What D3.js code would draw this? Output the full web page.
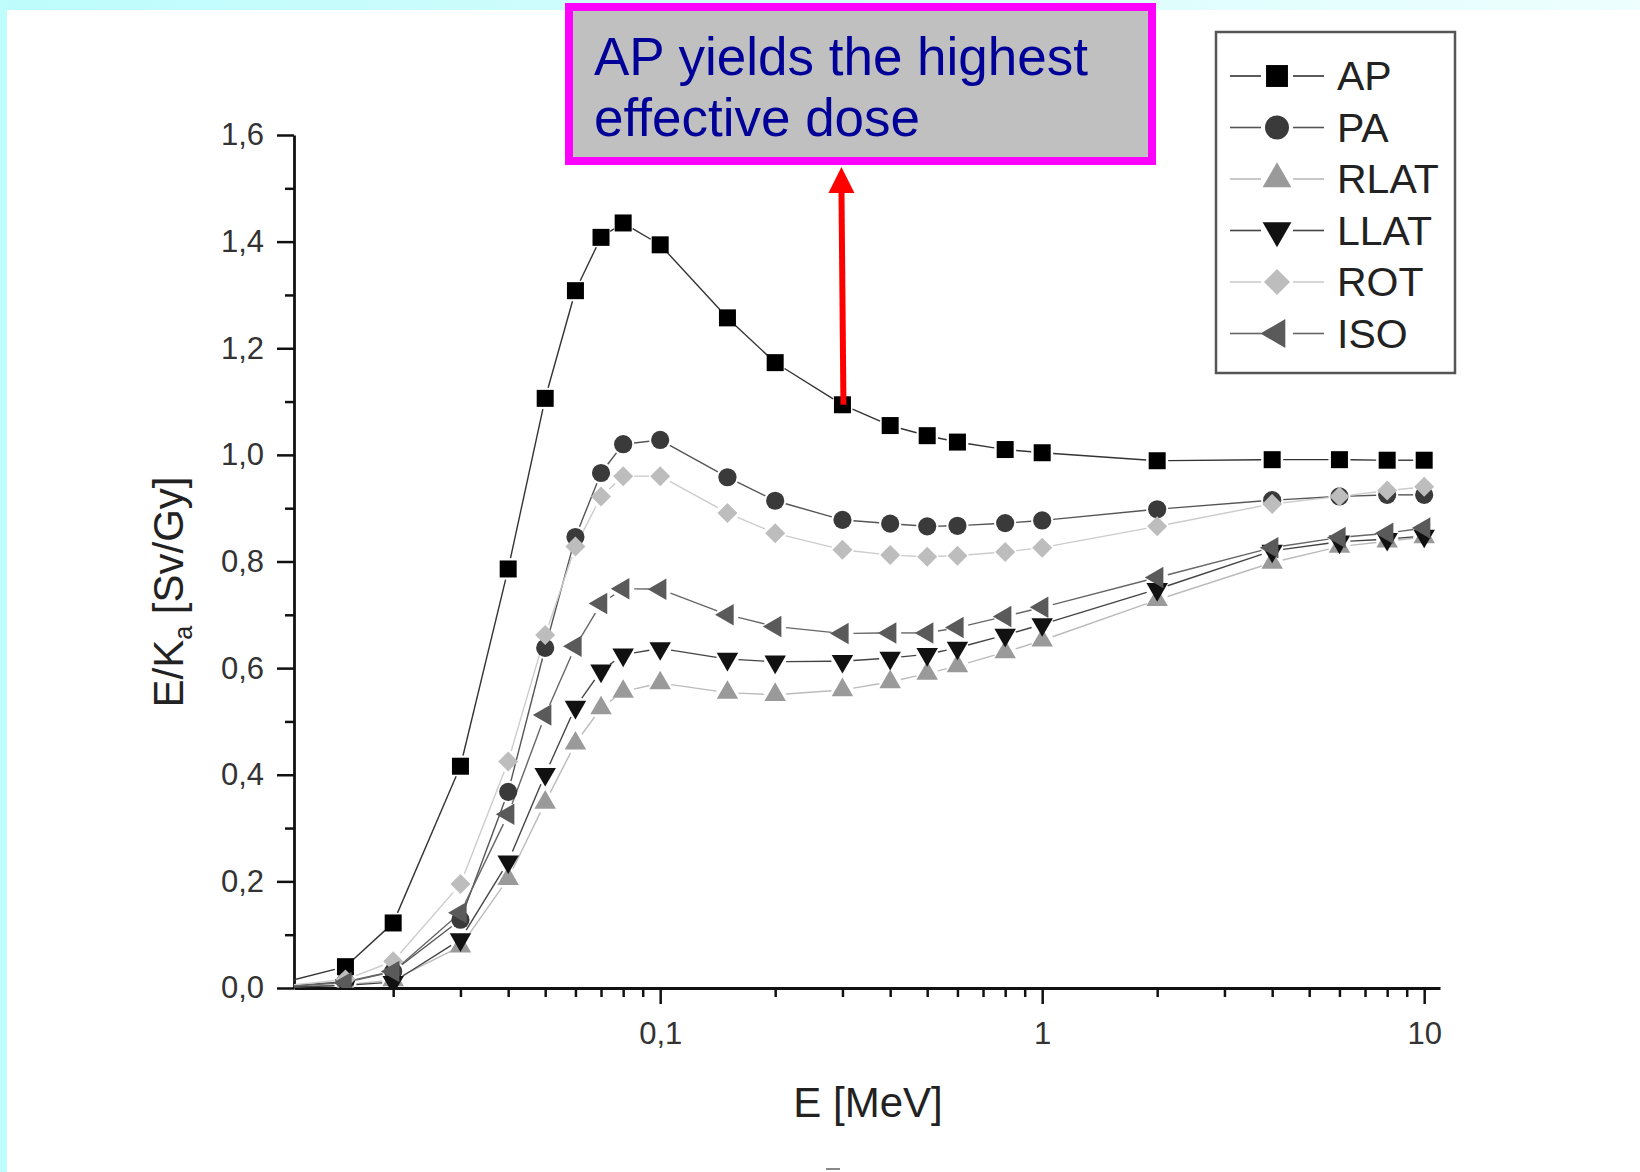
<!DOCTYPE html>
<html>
<head>
<meta charset="utf-8">
<script src="https://cdn.jsdelivr.net/npm/d3@7/dist/d3.min.js"></script>
<style>
  body { margin: 0; background: #fff; }
  svg { display: block; font-family: "Liberation Sans", Arial, sans-serif; }
</style>
</head>
<body>
<svg id="chart" width="1640" height="1172"></svg>
<script>
// Energies (MeV) and E/Ka conversion coefficients
const energy = [0.01, 0.015, 0.02, 0.03, 0.04, 0.05, 0.06, 0.07, 0.08, 0.1, 0.15, 0.2,
                0.3, 0.4, 0.5, 0.6, 0.8, 1, 2, 4, 6, 8, 10];
const AP   = [0.008, 0.040, 0.122, 0.416, 0.786, 1.106, 1.308, 1.408, 1.435, 1.394, 1.257, 1.173,
              1.094, 1.055, 1.036, 1.024, 1.010, 1.004, 0.989, 0.991, 0.991, 0.990, 0.990];
const PA   = [0.002, 0.012, 0.031, 0.128, 0.368, 0.638, 0.846, 0.966, 1.020, 1.028, 0.958, 0.914,
              0.878, 0.871, 0.866, 0.867, 0.872, 0.877, 0.898, 0.915, 0.922, 0.925, 0.925];
const RLAT = [0.001, 0.006, 0.015, 0.078, 0.205, 0.348, 0.459, 0.525, 0.556, 0.572, 0.554, 0.550,
              0.559, 0.574, 0.590, 0.604, 0.630, 0.652, 0.728, 0.798, 0.828, 0.838, 0.846];
const LLAT = [0.001, 0.005, 0.011, 0.091, 0.237, 0.401, 0.527, 0.595, 0.625, 0.637, 0.617, 0.612,
              0.613, 0.619, 0.626, 0.638, 0.662, 0.682, 0.748, 0.820, 0.837, 0.842, 0.848];
const ROT  = [0.003, 0.016, 0.050, 0.195, 0.425, 0.662, 0.828, 0.922, 0.960, 0.960, 0.891, 0.853,
              0.822, 0.812, 0.809, 0.811, 0.818, 0.826, 0.866, 0.908, 0.922, 0.933, 0.940];
const ISO  = [0.002, 0.010, 0.031, 0.141, 0.326, 0.512, 0.641, 0.721, 0.749, 0.748, 0.700, 0.678,
              0.665, 0.666, 0.666, 0.676, 0.697, 0.714, 0.770, 0.826, 0.845, 0.853, 0.863];

const seriesNames = ["AP", "PA", "RLAT", "LLAT", "ROT", "ISO"];
const seriesValues = [AP, PA, RLAT, LLAT, ROT, ISO];

const xMajorTicks = [0.1, 1, 10];
const xTickLabels = ["0,1", "1", "10"];
const yMajorTicks = [0, 0.2, 0.4, 0.6, 0.8, 1.0, 1.2, 1.4, 1.6];

// marker look per series
const styles = {
  AP:   { shape: d3.symbolSquare,   rot: 0,   size: 289, legSize: 480, fill: "#000",    line: "#333" },
  PA:   { shape: d3.symbolCircle,   rot: 0,   size: 260, legSize: 450, fill: "#3a3a3a", line: "#555" },
  RLAT: { shape: d3.symbolTriangle, rot: 0,   size: 200, legSize: 360, fill: "#9a9a9a", line: "#bbb" },
  LLAT: { shape: d3.symbolTriangle, rot: 180, size: 200, legSize: 360, fill: "#111",    line: "#444" },
  ROT:  { shape: d3.symbolSquare,   rot: 45,  size: 200, legSize: 340, fill: "#bdbdbd", line: "#ccc" },
  ISO:  { shape: d3.symbolTriangle, rot: -90, size: 200, legSize: 360, fill: "#5a5a5a", line: "#666" }
};

const svg = d3.select("#chart");

// slide background: cyan edges
const grad = svg.append("defs").append("linearGradient").attr("id", "topband");
grad.append("stop").attr("offset", "0%").attr("stop-color", "#bdfcfc");
grad.append("stop").attr("offset", "100%").attr("stop-color", "#eefefe");
svg.append("rect").attr("x", 0).attr("y", 0).attr("width", 1640).attr("height", 10).attr("fill", "url(#topband)");
svg.append("rect").attr("x", 0).attr("y", 0).attr("width", 7).attr("height", 1172).attr("fill", "#bffcfc");
// stray mark at the bottom edge of the slide
svg.append("line").attr("x1", 826).attr("x2", 840).attr("y1", 1169).attr("y2", 1169)
  .attr("stroke", "#888").attr("stroke-width", 2);

// scales
const x = d3.scaleLog().domain([0.011, 11]).range([294, 1440]);
const y = d3.scaleLinear().domain([0, 1.6]).range([988, 135]);

svg.append("defs").append("clipPath").attr("id", "plotclip")
  .append("rect").attr("x", 294).attr("y", 100).attr("width", 1160).attr("height", 888);

// axes
const fmtComma = d => d3.format(".1f")(d).replace(".", ",");

const yMinor = d3.range(1, 16, 2).map(i => i / 10);
svg.append("g").attr("transform", "translate(294,0)")
  .call(d3.axisLeft(y).tickValues(yMinor).tickSize(9).tickFormat(""))
  .call(g => g.select(".domain").remove())
  .call(g => g.selectAll("line").attr("stroke", "#111").attr("stroke-width", 2.5));

svg.append("g").attr("transform", "translate(294,0)")
  .call(d3.axisLeft(y).tickValues(yMajorTicks).tickSize(17).tickSizeOuter(0).tickPadding(13).tickFormat(fmtComma))
  .call(g => g.select(".domain").attr("stroke", "#111").attr("stroke-width", 2.8))
  .call(g => g.selectAll("line").attr("stroke", "#111").attr("stroke-width", 2.5))
  .call(g => g.selectAll("text").attr("font-size", 31).attr("fill", "#333")
    .attr("font-family", "Liberation Sans, Arial, sans-serif"));

const xMinor = [];
[0.01, 0.1, 1].forEach(dec => { for (let k = 2; k <= 9; k++) xMinor.push(dec * k); });
svg.append("g").attr("transform", "translate(0,988)")
  .call(d3.axisBottom(x).tickValues(xMinor).tickSize(9).tickFormat(""))
  .call(g => g.select(".domain").remove())
  .call(g => g.selectAll("line").attr("stroke", "#111").attr("stroke-width", 2.5));

svg.append("g").attr("transform", "translate(0,988)")
  .call(d3.axisBottom(x).tickValues(xMajorTicks).tickSize(16).tickSizeOuter(0).tickPadding(18)
    .tickFormat((d, i) => xTickLabels[i]))
  .call(g => g.select(".domain").attr("stroke", "#111").attr("stroke-width", 2.8))
  .call(g => g.selectAll("line").attr("stroke", "#111").attr("stroke-width", 2.5))
  .call(g => g.selectAll("text").attr("font-size", 31).attr("fill", "#333")
    .attr("font-family", "Liberation Sans, Arial, sans-serif"));

// axis titles
svg.append("text").attr("x", 868).attr("y", 1117).attr("text-anchor", "middle")
  .attr("font-size", 42).attr("fill", "#222").text("E [MeV]");

const yTitle = svg.append("text").attr("transform", "translate(183,592) rotate(-90)")
  .attr("text-anchor", "middle").attr("font-size", 42).attr("fill", "#222");
yTitle.append("tspan").text("E/K");
yTitle.append("tspan").attr("font-size", 25).attr("dy", 9).text("a");
yTitle.append("tspan").attr("dy", -9).text(" [Sv/Gy]");

// series: lines broken around markers, then markers
const plot = svg.append("g").attr("clip-path", "url(#plotclip)");
const gap = 11;

seriesNames.forEach((name, si) => {
  const st = styles[name];
  const vals = seriesValues[si];
  const pts = energy.map((e, i) => [x(e), y(vals[i])]);
  const segs = [];
  for (let i = 0; i < pts.length - 1; i++) {
    const [x1, y1] = pts[i], [x2, y2] = pts[i + 1];
    const len = Math.hypot(x2 - x1, y2 - y1);
    const g0 = i === 0 ? 0 : gap;
    if (len <= g0 + gap + 2) continue;
    const ux = (x2 - x1) / len, uy = (y2 - y1) / len;
    segs.push([x1 + ux * g0, y1 + uy * g0, x2 - ux * gap, y2 - uy * gap]);
  }
  plot.append("g").selectAll("line").data(segs).enter().append("line")
    .attr("x1", d => d[0]).attr("y1", d => d[1]).attr("x2", d => d[2]).attr("y2", d => d[3])
    .attr("stroke", st.line).attr("stroke-width", 1.4);
});

seriesNames.forEach((name, si) => {
  const st = styles[name];
  const vals = seriesValues[si];
  plot.append("g").selectAll("path").data(energy).enter().append("path")
    .attr("d", d3.symbol().type(st.shape).size(st.size))
    .attr("transform", (e, i) => "translate(" + x(e) + "," + y(vals[i]) + ") rotate(" + st.rot + ")")
    .attr("fill", st.fill);
});

// legend
const leg = svg.append("g");
leg.append("rect").attr("x", 1216).attr("y", 32).attr("width", 239).attr("height", 341)
  .attr("fill", "#fff").attr("stroke", "#555").attr("stroke-width", 2.5);
seriesNames.forEach((name, i) => {
  const st = styles[name];
  const cy = 76 + i * 51.5;
  leg.append("line").attr("x1", 1230).attr("x2", 1261).attr("y1", cy).attr("y2", cy)
    .attr("stroke", st.line).attr("stroke-width", 1.6);
  leg.append("line").attr("x1", 1293).attr("x2", 1324).attr("y1", cy).attr("y2", cy)
    .attr("stroke", st.line).attr("stroke-width", 1.6);
  leg.append("path").attr("d", d3.symbol().type(st.shape).size(st.legSize))
    .attr("transform", "translate(1277," + cy + ") rotate(" + st.rot + ")")
    .attr("fill", st.fill);
  leg.append("text").attr("x", 1337).attr("y", cy + 14).attr("font-size", 41)
    .attr("fill", "#222").text(name);
});

// annotation box with arrow
svg.append("rect").attr("x", 569).attr("y", 7).attr("width", 583).attr("height", 154)
  .attr("fill", "#c0c0c0").attr("stroke", "#ff00ff").attr("stroke-width", 8);
svg.append("text").attr("x", 594).attr("y", 75).attr("font-size", 53).attr("fill", "#000099")
  .text("AP yields the highest");
svg.append("text").attr("x", 594).attr("y", 136).attr("font-size", 53).attr("fill", "#000099")
  .text("effective dose");

const arrowBase = [x(0.3) + 1, y(AP[12])];
svg.append("line").attr("x1", arrowBase[0]).attr("y1", arrowBase[1]).attr("x2", arrowBase[0] - 2).attr("y2", 188)
  .attr("stroke", "#ff0000").attr("stroke-width", 6);
svg.append("path")
  .attr("d", "M" + (arrowBase[0] - 2) + ",167 l-13,26 h26 z")
  .attr("fill", "#ff0000");
</script>
</body>
</html>
